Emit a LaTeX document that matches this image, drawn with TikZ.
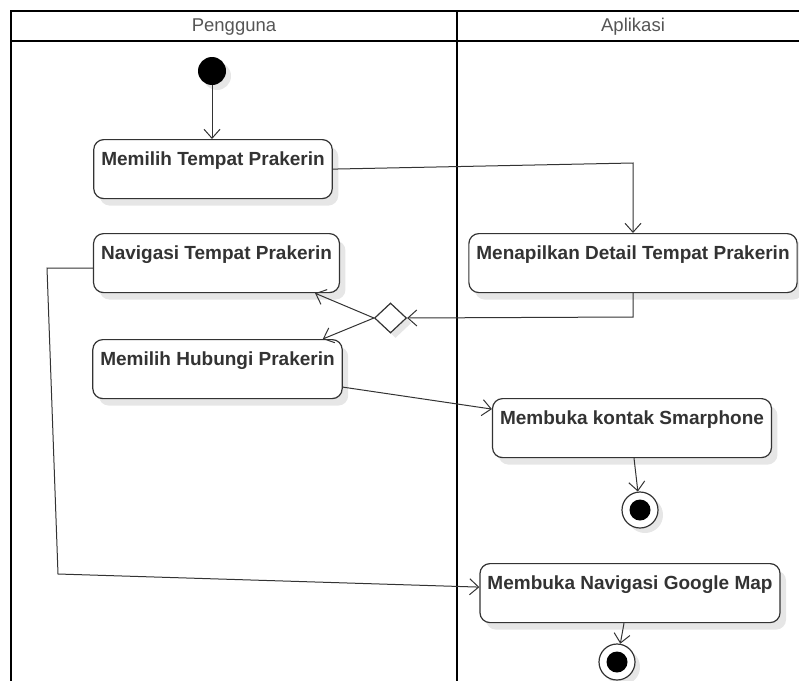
\documentclass[tikz,border=0pt]{standalone}
\usepackage{fontspec}
\setmainfont{Liberation Sans}
\usepackage{tikz}
\usetikzlibrary{arrows.meta,positioning,calc,shapes.geometric,shadows}
\definecolor{ink}{HTML}{333333}
\definecolor{lanehd}{HTML}{555555}
\definecolor{shade}{HTML}{E6E6E6}

\tikzset{
  lane/.style={line width=2.8pt, black},
  lanehead/.style={font=\fontsize{18.5}{22}\selectfont, text=lanehd},
  actbox/.style={draw=ink, line width=1.2pt, rounded corners=10pt, fill=white,
    font=\fontsize{19}{22}\selectfont\bfseries, text=ink, anchor=north,
    inner xsep=7.5pt, inner ysep=0pt, text height=26pt, text depth=33pt,
    drop shadow={shadow xshift=6pt, shadow yshift=-7pt, fill=shade, opacity=1}},
  flow/.style={draw=ink, line width=1pt, -{Straight Barb[length=9pt, width=16pt, line width=1pt]}},
  startdot/.style={circle, fill=black, minimum size=28pt, inner sep=0pt,
    drop shadow={shadow xshift=5pt, shadow yshift=-5pt, fill=shade, opacity=1}},
  enddot/.style={circle, draw=ink, line width=1.2pt, fill=white, minimum size=36pt, inner sep=0pt,
    path picture={\fill[black] (path picture bounding box.center) circle (10.5pt);},
    drop shadow={shadow xshift=5pt, shadow yshift=-5pt, fill=shade, opacity=1}},
  choice/.style={diamond, draw=ink, line width=1.2pt, fill=white, minimum width=32pt,
    minimum height=30pt, inner sep=0pt,
    drop shadow={shadow xshift=5pt, shadow yshift=-5pt, fill=shade, opacity=1}}
}

\begin{document}
\begin{tikzpicture}[x=1pt, y=-1pt]
\useasboundingbox (0,0) rectangle (799,680);
% swimlanes
\draw[lane] (11,681) -- (11,11) -- (810,11);
\draw[lane] (11,41) -- (810,41);
\draw[lane] (457,11) -- (457,681);
\node[lanehead] (pengguna) at (234,27) {Pengguna};
\node[lanehead] (aplikasi) at (633,27) {Aplikasi};

% nodes
\node[startdot] (start) at (212,71) {};
\node[actbox] (pilih) at (213,139) {Memilih Tempat Prakerin};
\node[actbox] (detail) at (633,233) {Menapilkan Detail Tempat Prakerin};
\node[actbox] (navi) at (216.5,233) {Navigasi Tempat Prakerin};
\node[choice] (cek) at (390.5,318) {};
\node[actbox] (hubungi) at (217.5,339) {Memilih Hubungi Prakerin};
\node[actbox] (kontak) at (632,398) {Membuka kontak Smarphone};
\node[enddot] (akhir1) at (640,510) {};
\node[actbox] (gmap) at (630,563) {Membuka Navigasi Google Map};
\node[enddot] (akhir2) at (617,662) {};

\coordinate (b1) at (633,163);
\coordinate (b2) at (633,317);
\coordinate (b3) at (47,268);
\coordinate (b4) at (58,574);

% flows
\draw[flow] (start) -- (start |- pilih.north);
\draw[flow] (pilih.east) -- (b1) -- (detail.north);
\draw[flow] (detail.south) -- (b2) -- (cek.east);
\draw[flow] (cek.west) -- ([xshift=-25pt]navi.south east);
\draw[flow] (cek.west) -- ([xshift=-20pt]hubungi.north east);
\draw[flow] ([yshift=-18pt]hubungi.east) -- ([yshift=19pt]kontak.west);
\draw[flow] ([xshift=2pt]kontak.south) -- (akhir1);
\draw[flow] ([yshift=-5pt]navi.west) -- (b3) -- (b4) -- ([yshift=6pt]gmap.west);
\draw[flow] ([xshift=-6pt]gmap.south) -- (akhir2);
\end{tikzpicture}
\end{document}
